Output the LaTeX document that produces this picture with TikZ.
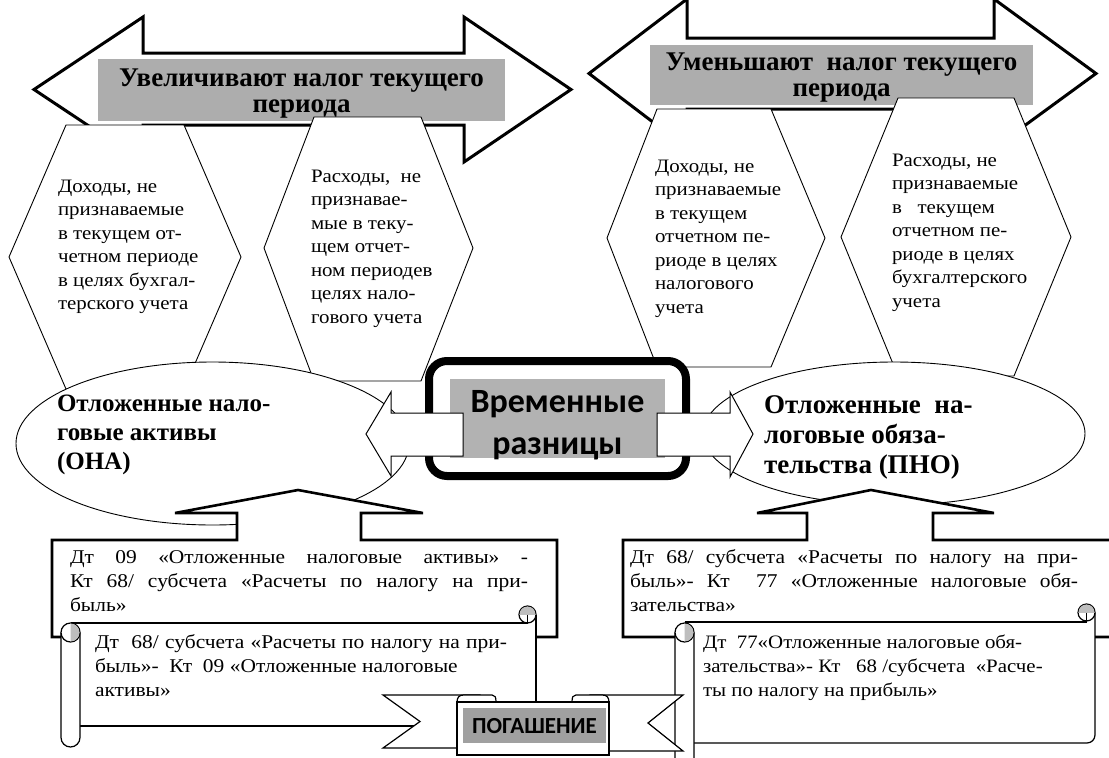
\documentclass[tikz,border=0pt]{standalone}
\usepackage{fontspec}
\setmainfont{Liberation Serif}
\newfontfamily\bodyf[FakeStretch=1.1]{Liberation Serif}
\newfontfamily\calib{Carlito}
\definecolor{titlegray}{HTML}{ADADAD}
\definecolor{midgray}{HTML}{B2B2B2}
\definecolor{ribgray}{HTML}{A0A0A0}
\definecolor{curlgray}{HTML}{BEBEBE}
\tikzset{
  bigarrow/.style={draw=black, line width=3pt, fill=white, line join=miter, miter limit=10},
  hexa/.style={draw=black, line width=0.9pt, fill=white, line join=miter},
  oval/.style={draw=black, line width=0.9pt, fill=white},
  callout/.style={draw=black, line width=2.6pt, fill=white, line join=miter},
  warrow/.style={draw=black, line width=1pt, fill=white, line join=miter},
  scrl/.style={draw=black, line width=1.2pt, fill=white},
  txt/.style={inner sep=0pt, outer sep=0pt},
  hextxt/.style={txt, anchor=base west, font=\bodyf\fontsize{19}{23.5}\selectfont},
  boxtxt/.style={txt, anchor=base west, font=\bodyf\fontsize{19.5}{24}\selectfont},
  titletxt/.style={txt, anchor=base, font=\bfseries\fontsize{27}{26}\selectfont},
}
\begin{document}
\begin{tikzpicture}[x=1pt,y=-1pt]
\useasboundingbox (0,0) rectangle (1109,758);
\clip (0,0) rectangle (1109,758);
% big double arrows
\path[bigarrow] (34,89.5) -- (143,17) -- (143,53) -- (464,53) -- (464,17) -- (571,89.5)
   -- (464,162) -- (464,125) -- (143,125) -- (143,162) -- cycle;
\path[bigarrow] (589,73.5) -- (687,-1) -- (687,38) -- (994,38) -- (994,-1) -- (1096,73.5)
   -- (994,148) -- (994,109) -- (687,109) -- (687,148) -- cycle;
\fill[titlegray] (98,59) rectangle (505,121);
\fill[titlegray] (650,45) rectangle (1033,105);
% hexagons
\path[hexa] (66,125) -- (184,125) -- (241,257) -- (184,389) -- (66,389) -- (9,257) -- cycle;
\path[hexa] (314,117) -- (421,117) -- (473,248) -- (421,381) -- (314,381) -- (264,248) -- cycle;
\path[hexa] (657,109) -- (771,109) -- (825,238) -- (771,367) -- (657,367) -- (607,238) -- cycle;
\path[hexa] (898,98) -- (1014,98) -- (1071,237) -- (1014,376) -- (898,376) -- (841,237) -- cycle;
\node[hextxt] (h1) at (58,192) {\parbox[t]{180pt}{\raggedright Доходы, не\\признаваемые\\в текущем от-\\четном периоде\\в целях бухгал-\\терского учета}};
\node[hextxt] (h2) at (311,182) {\parbox[t]{180pt}{\raggedright Расходы,\ \ не\\признавае-\\мые в теку-\\щем отчет-\\ном периодев\\целях нало-\\гового учета}};
\node[hextxt] (h3) at (655,172) {\parbox[t]{180pt}{\raggedright Доходы, не\\признаваемые\\в текущем\\отчетном пе-\\риоде в целях\\налогового\\учета}};
\node[hextxt] (h4) at (892,166) {\parbox[t]{180pt}{\raggedright Расходы, не\\признаваемые\\в\ \ \ текущем\\отчетном пе-\\риоде в целях\\бухгалтерского\\учета}};
% titles
\node[titletxt] (t1) at (301.5,86) {\parbox[t]{400pt}{\centering Увеличивают налог текущего\\периода}};
\node[titletxt] (t2) at (841.5,70) {\parbox[t]{400pt}{\centering Уменьшают\ \ налог текущего\\периода}};
% ovals
\path[oval] (212.5,443.5) ellipse [x radius=196.5pt, y radius=81.5pt];
\path[oval] (894,433.5) ellipse [x radius=191pt, y radius=71.5pt];
\node[txt, anchor=base west, font=\bfseries\fontsize{25}{29}\selectfont] (e1) at (57,411)
  {\parbox[t]{260pt}{\raggedright Отложенные нало-\\говые активы\\(ОНА)}};
\node[txt, anchor=base west, font=\bfseries\fontsize{27}{30}\selectfont] (e2) at (764,413)
  {\parbox[t]{300pt}{\raggedright Отложенные\ \ на-\\логовые обяза-\\тельства (ПНО)}};
% centre box
\draw[line width=8pt, fill=white, rounded corners=18pt] (429,361) rectangle (686,476);
\fill[midgray] (450,379) rectangle (665,458);
\node[txt, anchor=base, font=\calib\bfseries\fontsize{34}{42}\selectfont] (c) at (557.5,412)
  {\parbox[t]{220pt}{\centering Временные\\разницы}};
% white arrows
\path[warrow] (366,434) -- (391,392) -- (391,413) -- (463,413) -- (463,456) -- (391,456) -- (391,476) -- cycle;
\path[warrow] (753,434) -- (730,392) -- (730,413) -- (657,413) -- (657,456) -- (730,456) -- (730,477) -- cycle;
% callouts
\path[callout] (52,540) -- (237,540) -- (237,513) -- (175,513) -- (298,490) -- (423,513) -- (361,513)
   -- (361,540) -- (557,540) -- (557,637) -- (52,637) -- cycle;
\path[callout] (623,540) -- (807,540) -- (807,513) -- (757,513) -- (871,490) -- (994,513) -- (933,513)
   -- (933,540) -- (1120,540) -- (1120,637) -- (623,637) -- cycle;
\node[boxtxt] (k1) at (70,563) {\parbox[t]{470pt}{\makebox[458pt][s]{Дт 09 «Отложенные налоговые активы» -}\\\makebox[458pt][s]{Кт 68/ субсчета «Расчеты по налогу на при-}\\быль»}};
\node[boxtxt] (k2) at (630,563) {\parbox[t]{470pt}{\makebox[448pt][s]{Дт 68/ субсчета «Расчеты по налогу на при-}\\\makebox[448pt][s]{быль»- Кт\ \ 77 «Отложенные налоговые обя-}\\зательства»}};
% scroll 1
\fill[white] (70,623) rectangle (536,726);
\draw[line width=1.2pt] (70.5,623) -- (527.5,623);
\draw[line width=1.2pt] (536,614.5) -- (536,726) -- (79,726);
\path[scrl] (527.5,614.5) circle[radius=8.5pt];
\begin{scope}\clip (518,605) rectangle (537,614.5);
\fill[curlgray] (527.5,614.5) circle[radius=8pt];\end{scope}
\draw[line width=1.2pt] (527.5,614.5) -- (527.5,623);
\path[scrl, rounded corners=9.5pt] (61,632.5) -- (61,747) -- (80,747) -- (80,632.5);
\path[scrl] (70.5,632.5) circle[radius=9.5pt];
\begin{scope}\clip (70.5,622) rectangle (81,643);
\fill[curlgray] (70.5,632.5) circle[radius=9pt];\end{scope}
\node[boxtxt] (s1) at (95,648) {\parbox[t]{470pt}{\makebox[412pt][s]{Дт\ \ 68/ субсчета «Расчеты по налогу на при-}\\быль»-\ \ Кт\ \ 09 «Отложенные налоговые\\активы»}};
% scroll 2
\fill[white] (684,622) rectangle (1095,743);
\draw[line width=1.2pt] (684.5,622) -- (1086.5,622);
\draw[line width=1.2pt, rounded corners=8pt] (1095,612.5) -- (1095,743) -- (690,743);
\path[scrl] (1086.5,612.5) circle[radius=8.5pt];
\begin{scope}\clip (1077,603) rectangle (1096,612.5);
\fill[curlgray] (1086.5,612.5) circle[radius=8pt];\end{scope}
\draw[line width=1.2pt] (1086.5,612.5) -- (1086.5,622);
\path[scrl, rounded corners=9.5pt] (675,632.5) -- (675,775) -- (694,775) -- (694,632.5);
\path[scrl] (684.5,632.5) circle[radius=9.5pt];
\begin{scope}\clip (684.5,622) rectangle (695,643);
\fill[curlgray] (684.5,632.5) circle[radius=9pt];\end{scope}
\node[txt, anchor=base west, font=\bodyf\fontsize{19}{24}\selectfont] (s2) at (703,648) {\parbox[t]{470pt}{Дт\ \ 77«Отложенные налоговые обя-\\зательства»- Кт\ \ \ 68 /субсчета\ \ «Расче-\\ты по налогу на прибыль»}};
% ribbon
\path[scrl, line join=miter] (383,695) -- (480,695) -- (480,748) -- (383,748) -- (420,721.5) -- cycle;
\path[scrl, line join=miter] (683,695) -- (590,695) -- (590,751) -- (683,751) -- (648,723) -- cycle;
\path[scrl] (457,703) .. controls (457,697) and (459,695) .. (464,695) -- (492,695)
   .. controls (495,695) and (496,697) .. (496,702);
\path[scrl] (609,703) .. controls (609,697) and (607,695) .. (602,695) -- (576,695)
   .. controls (573,695) and (572,697) .. (572,702);
\path[scrl] (457,702) rectangle (609,755);
\fill[ribgray] (463,708) rectangle (606,743);
\node[txt, font=\calib\bfseries\fontsize{23}{27}\selectfont] (pog) at (534.5,726) {ПОГАШЕНИЕ};
\end{tikzpicture}
\end{document}
